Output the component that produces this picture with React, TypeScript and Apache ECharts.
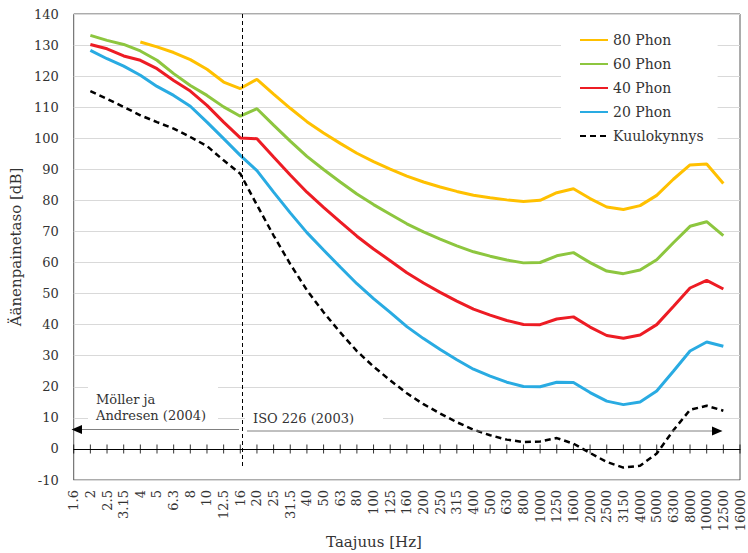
import React, { useEffect, useRef } from "react";
import * as echarts from "echarts";

const categories = [
  "1.6", "2", "2.5", "3.15", "4", "5", "6.3", "8", "10", "12.5", "16",
  "20", "25", "31.5", "40", "50", "63", "80", "100", "125", "160", "200",
  "250", "315", "400", "500", "630", "800", "1000", "1250", "1600", "2000",
  "2500", "3150", "4000", "5000", "6300", "8000", "10000", "12500", "16000",
];

const phon80 = [
  null, null, null, null, 131.0, 129.4, 127.6, 125.3, 122.2, 118.1, 116.0,
  118.99, 114.23, 109.65, 105.34, 101.72, 98.36, 95.17, 92.48, 90.09, 87.82, 85.92,
  84.31, 82.89, 81.68, 80.86, 80.17, 79.67, 80.01, 82.48, 83.74, 80.59,
  77.88, 77.08, 78.31, 81.62, 86.81, 91.41, 91.74, 85.41, null,
];

const phon60 = [
  null, 133.1, 131.5, 130.2, 128.1, 125.1, 120.8, 117.0, 113.8, 110.1, 107.1,
  109.51, 104.23, 99.08, 94.18, 89.96, 85.94, 82.05, 78.65, 75.56, 72.47, 69.86,
  67.53, 65.39, 63.45, 62.05, 60.82, 59.89, 60.01, 62.16, 63.19, 59.96,
  57.26, 56.42, 57.57, 60.89, 66.36, 71.66, 73.15, 68.63, null,
];

const phon40 = [
  null, 130.2, 128.8, 126.5, 125.1, 122.4, 118.6, 115.2, 110.6, 105.2, 100.1,
  99.85, 93.94, 88.17, 82.63, 77.78, 73.08, 68.48, 64.37, 60.59, 56.7, 53.41,
  50.4, 47.58, 44.98, 43.05, 41.34, 40.06, 40.01, 41.82, 42.51, 39.23,
  36.51, 35.61, 36.65, 40.01, 45.83, 51.8, 54.28, 51.49, null,
];

const phon20 = [
  null, 128.3, 125.6, 123.2, 120.3, 116.7, 113.8, 110.3, 105.2, 99.9, 94.5,
  89.58, 82.65, 75.98, 69.62, 64.02, 58.55, 53.19, 48.38, 43.94, 39.37, 35.51,
  31.99, 28.69, 25.67, 23.43, 21.48, 20.1, 20.01, 21.46, 21.4, 18.15,
  15.38, 14.26, 15.14, 18.63, 25.02, 31.52, 34.42, 33.04, null,
];

const threshold = [
  null, 115.2, 112.7, 110.1, 107.4, 105.2, 103.1, 100.4, 97.5, 92.9, 88.6,
  78.5, 68.7, 59.5, 51.1, 44.0, 37.5, 31.5, 26.5, 22.1, 17.9, 14.4,
  11.4, 8.6, 6.2, 4.4, 3.0, 2.2, 2.4, 3.5, 1.7, -1.3,
  -4.2, -6.0, -5.4, -1.5, 6.0, 12.6, 13.9, 12.3, null,
];

const seriesNames = ["80 Phon", "60 Phon", "40 Phon", "20 Phon", "Kuulokynnys"];
const yMin = -10;
const yMax = 140;
const yStep = 10;

const FONT = "DejaVu Serif";
const TXT = "#333333";

export default function App() {
  const ref = useRef<HTMLDivElement>(null);

  useEffect(() => {
    const chart = echarts.init(ref.current as HTMLDivElement, null, { renderer: "svg" });

    const line = (name: string, data: (number | null)[], color: string, dashed = false) => ({
      name,
      type: "line",
      data,
      xAxisIndex: 0,
      yAxisIndex: 0,
      symbol: "none",
      smooth: false,
      connectNulls: false,
      lineStyle: { color, width: dashed ? 2.5 : 3, type: dashed ? [6, 4] : "solid" },
      itemStyle: { color },
      z: 3,
    });

    const option: any = {
      animation: false,
      backgroundColor: "#ffffff",
      textStyle: { fontFamily: FONT },
      grid: {
        left: 68,
        right: 8,
        top: 14,
        bottom: 73,
        show: true,
        borderColor: "#595959",
        borderWidth: 1,
        containLabel: false,
      },
      legend: {
        data: seriesNames,
        orient: "vertical",
        left: 561,
        top: 26,
        padding: [7, 14, 7, 18],
        itemWidth: 28,
        itemHeight: 14,
        itemGap: 10,
        backgroundColor: "#ffffff",
        itemStyle: { opacity: 0 },
        textStyle: { fontFamily: FONT, fontSize: 14, color: TXT },
      },
      xAxis: [
        {
          type: "category",
          data: categories,
          boundaryGap: false,
          position: "bottom",
          axisLine: { show: false, onZero: false },
          axisTick: { show: false },
          splitLine: { show: false },
          axisLabel: {
            rotate: 90,
            interval: 0,
            margin: 10,
            fontFamily: FONT,
            fontSize: 13,
            color: TXT,
          },
        },
        {
          type: "category",
          data: categories,
          boundaryGap: false,
          axisLine: { show: true, onZero: true, lineStyle: { color: "#000000", width: 1 } },
          axisTick: { show: false },
          axisLabel: { show: false },
          splitLine: { show: false },
        },
      ],
      yAxis: {
        type: "value",
        min: yMin,
        max: yMax,
        interval: yStep,
        name: "Äänenpainetaso [dB]",
        nameLocation: "middle",
        nameGap: 42,
        nameTextStyle: { fontFamily: FONT, fontSize: 15, color: TXT },
        axisLine: { show: false },
        axisTick: { show: false },
        axisLabel: { margin: 15, fontFamily: FONT, fontSize: 13, color: TXT },
        splitLine: { show: true, lineStyle: { color: "#d9d9d9", width: 1 } },
      },
      series: [
        line("80 Phon", phon80, "#FFC000"),
        line("60 Phon", phon60, "#8DC63F"),
        line("40 Phon", phon40, "#ED1C24"),
        line("20 Phon", phon20, "#29ABE2"),
        line("Kuulokynnys", threshold, "#000000", true),
        {
          name: "ticks",
          type: "scatter",
          xAxisIndex: 1,
          yAxisIndex: 0,
          data: categories.map((c) => [c, 0]),
          symbol: "rect",
          symbolSize: [1, 9],
          itemStyle: { color: "#000000" },
          silent: true,
          z: 4,
        },
      ],
      graphic: [
        {
          type: "rect",
          z: 1,
          shape: { x: 88, y: 384, width: 130, height: 42 },
          style: { fill: "#ffffff" },
        },
        {
          type: "text",
          z: 2,
          x: 96,
          y: 391,
          style: {
            text: "Möller ja\nAndresen (2004)",
            font: `13px "${FONT}"`,
            fill: TXT,
            lineHeight: 16,
          },
        },
        {
          type: "rect",
          z: 1,
          shape: { x: 245, y: 405, width: 138, height: 21 },
          style: { fill: "#ffffff" },
        },
        {
          type: "text",
          z: 2,
          x: 253,
          y: 410,
          style: {
            text: "ISO 226 (2003)",
            font: `13px "${FONT}"`,
            fill: TXT,
            lineHeight: 16,
          },
        },
        {
          type: "line",
          z: 5,
          shape: { x1: 242.5, y1: 14, x2: 242.5, y2: 467 },
          style: { stroke: "#000000", lineWidth: 1, lineDash: [4, 3] },
        },
        {
          type: "line",
          z: 5,
          shape: { x1: 239, y1: 429.5, x2: 80, y2: 429.5 },
          style: { stroke: "#808080", lineWidth: 1 },
        },
        {
          type: "polygon",
          z: 5,
          shape: { points: [[71.5, 429.5], [82, 425], [82, 434]] },
          style: { fill: "#000000" },
        },
        {
          type: "line",
          z: 5,
          shape: { x1: 247, y1: 431, x2: 714, y2: 431 },
          style: { stroke: "#808080", lineWidth: 1 },
        },
        {
          type: "polygon",
          z: 5,
          shape: { points: [[722.5, 431], [712, 426.5], [712, 435.5]] },
          style: { fill: "#000000" },
        },
        {
          type: "text",
          z: 5,
          x: 374,
          y: 542,
          style: {
            text: "Taajuus [Hz]",
            font: `15px "${FONT}"`,
            fill: TXT,
            align: "center",
            verticalAlign: "middle",
            textAlign: "center",
            textVerticalAlign: "middle",
          },
        },
      ],
    };

    chart.setOption(option);
    return () => {
      chart.dispose();
    };
  }, []);

  return (
    <div
      ref={ref}
      style={{ position: "absolute", left: 0, top: 0, width: 748, height: 553 }}
    />
  );
}
